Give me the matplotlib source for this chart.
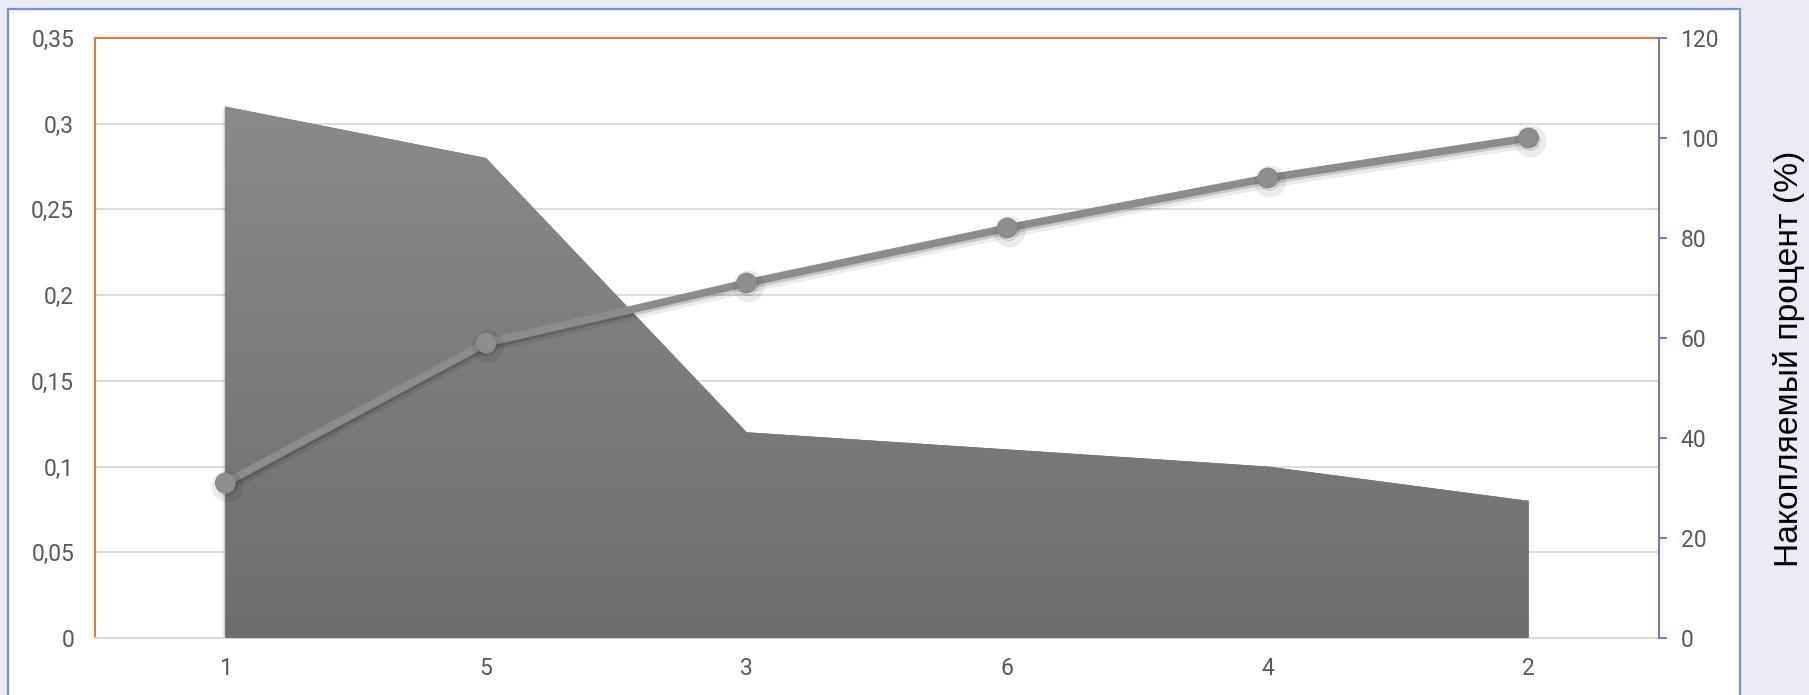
import numpy as np
import matplotlib
matplotlib.use("Agg")
import matplotlib.pyplot as plt
from matplotlib.patches import Rectangle, Polygon
from matplotlib.colors import LinearSegmentedColormap
import matplotlib.patheffects as pe

# Data
categories = ["1", "5", "3", "6", "4", "2"]
share = [0.31, 0.28, 0.12, 0.11, 0.10, 0.08]
cumulative = [31, 59, 71, 82, 92, 100]
left_ticks = [0, 0.05, 0.1, 0.15, 0.2, 0.25, 0.3, 0.35]
left_labels = ["0", "0,05", "0,1", "0,15", "0,2", "0,25", "0,3", "0,35"]
right_ticks = [0, 20, 40, 60, 80, 100, 120]
right_label = "Накопляемый процент (%)"

plt.rcParams["font.family"] = ["Roboto", "DejaVu Sans"]

W, H = 1809, 695
fig = plt.figure(figsize=(W / 100, H / 100), dpi=100)
fig.patch.set_facecolor("#ebebf5")

# White chart panel with blue frame
panel = Rectangle((8 / W, -0.05), (1740 - 8) / W, (H - 9) / H + 0.05,
                  transform=fig.transFigure, facecolor="white",
                  edgecolor="#7094d8", linewidth=1.6, zorder=-10)
fig.patches.append(panel)

left, right, top, bottom = 95, 1659, 38, 638
ax = fig.add_axes([left / W, 1 - bottom / H, (right - left) / W, (bottom - top) / H])
ax.set_facecolor("none")
x = np.arange(len(categories))

# Gridlines
for t in left_ticks[1:-1]:
    ax.axhline(t, color="#d9d9d9", linewidth=1.3, zorder=1)

# Area with vertical gradient fill and soft shadow
verts = [(x[0], 0)] + list(zip(x, share)) + [(x[-1], 0)]
base = Polygon(verts, closed=True, facecolor="#777777", edgecolor="none", zorder=2,
               path_effects=[pe.SimplePatchShadow(offset=(-2, -1), shadow_rgbFace="#000000",
                                                  alpha=0.08),
                             pe.SimplePatchShadow(offset=(-1, -0.5), shadow_rgbFace="#000000",
                                                  alpha=0.1),
                             pe.Normal()])
ax.add_patch(base)
grad = np.linspace(0, 1, 256).reshape(-1, 1)
cmap = LinearSegmentedColormap.from_list("g", ["#6e6e6e", "#8a8a8a"])
im = ax.imshow(grad, aspect="auto", cmap=cmap, origin="lower",
               extent=[x[0], x[-1], 0, max(share)], zorder=3)
clip = Polygon(verts, closed=True, transform=ax.transData, facecolor="none", edgecolor="none")
ax.add_patch(clip)
im.set_clip_path(clip)
ax.set_xlim(-0.5, len(categories) - 0.5)
ax.set_ylim(0, 0.35)

ax.set_xticks(x)
ax.set_xticklabels(categories)
ax.set_yticks(left_ticks)
ax.set_yticklabels(left_labels)
ax.tick_params(axis="both", length=0, labelsize=16.5, labelcolor="#595959", pad=15)
ax.tick_params(axis="x", pad=14)

for s in ["left", "top"]:
    ax.spines[s].set_color("#e07b39")
    ax.spines[s].set_linewidth(1.5)
ax.spines["bottom"].set_color("#d9d9d9")
ax.spines["bottom"].set_linewidth(1.5)
ax.spines["right"].set_visible(False)

# Secondary axis: cumulative percent
ax2 = ax.twinx()
ax2.set_ylim(0, 120)
ax2.set_yticks(right_ticks)
ax2.tick_params(axis="y", length=5.5, width=1.2, color="#4472c4", labelsize=16.5,
                labelcolor="#595959", pad=10)
for s in ["left", "top", "bottom"]:
    ax2.spines[s].set_visible(False)
ax2.spines["right"].set_color("#7a7a9a")
ax2.spines["right"].set_linewidth(1.5)

ax2.plot(x, cumulative, color="#8c8c8c", linewidth=5.5, marker="o", markersize=14,
         markerfacecolor="#8e8e8e", markeredgecolor="#8a8a8a", zorder=5,
         path_effects=[pe.SimpleLineShadow(offset=(1.5, -2.5), shadow_color="black", alpha=0.08,
                                           linewidth=9),
                       pe.SimpleLineShadow(offset=(1, -1.8), shadow_color="black", alpha=0.15),
                       pe.Normal()])

# Secondary axis title, sized to run from y=150 to y=568 px
label = fig.text(1789 / W, 1 - 359 / H, right_label, rotation=90, ha="center", va="center",
                 fontsize=23, color="black", family=["Liberation Sans", "DejaVu Sans"])
renderer = fig.canvas.get_renderer()
span = label.get_window_extent(renderer).height
label.set_fontsize(23 * 418 / span)

fig.savefig("out.png", dpi=100, facecolor=fig.get_facecolor())
